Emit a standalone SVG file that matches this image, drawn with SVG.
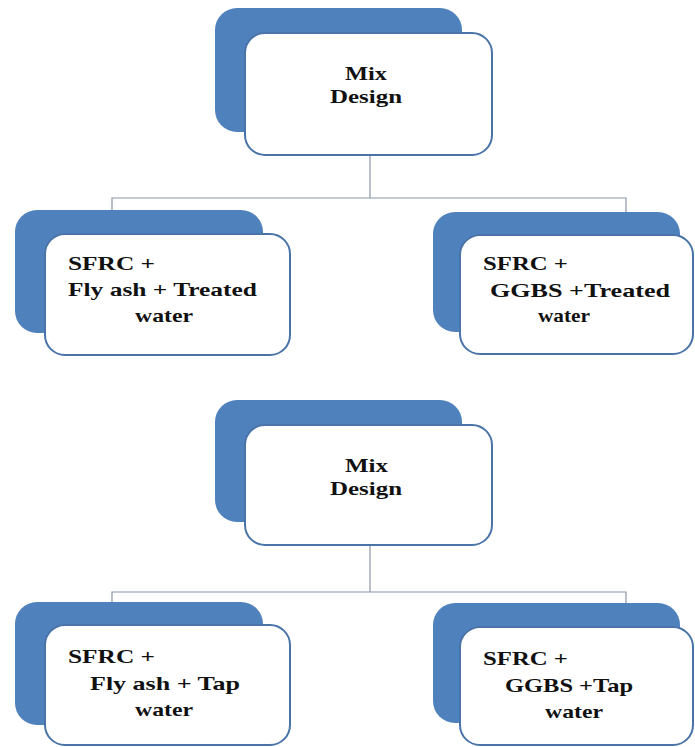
<svg xmlns="http://www.w3.org/2000/svg" width="695" height="747" viewBox="0 0 695 747">
  <style>
    .back { fill: #4f81bd; }
    .front { fill: #ffffff; stroke: #4a74a8; stroke-width: 2; }
    .link { fill: none; stroke: #8a96a8; stroke-width: 1.2; }
    .lbl { font-family: "Liberation Serif", "Times New Roman", serif; font-weight: bold; font-size: 19px; fill: #111111; }
  </style>
  <rect width="695" height="747" fill="#ffffff"/>

  <!-- connectors -->
  <g id="connectors">
    <polyline class="link" points="370,155 370,198"/>
    <polyline class="link" points="112,211 112,198 626,198 626,213"/>
    <polyline class="link" points="370,545 370,592"/>
    <polyline class="link" points="112,603 112,592 626,592 626,604"/>
  </g>

  <!-- upper tree: treated water -->
  <g id="mix-design-1">
    <rect class="back" x="215" y="8" width="247" height="124" rx="22"/>
    <rect class="front" x="245" y="33" width="247" height="122" rx="20"/>
    <text class="lbl" x="345" y="80" textLength="42" lengthAdjust="spacingAndGlyphs">Mix</text>
    <text class="lbl" x="330" y="103" textLength="72" lengthAdjust="spacingAndGlyphs">Design</text>
  </g>

  <g id="flyash-treated">
    <rect class="back" x="15" y="210" width="248" height="123" rx="22"/>
    <rect class="front" x="45" y="234" width="245" height="121" rx="20"/>
    <text class="lbl" x="68" y="270" textLength="87" lengthAdjust="spacingAndGlyphs">SFRC +</text>
    <text class="lbl" x="68" y="296" textLength="189" lengthAdjust="spacingAndGlyphs">Fly ash + Treated</text>
    <text class="lbl" x="135" y="322" textLength="58" lengthAdjust="spacingAndGlyphs">water</text>
  </g>

  <g id="ggbs-treated">
    <rect class="back" x="433" y="212" width="247" height="120" rx="22"/>
    <rect class="front" x="460" y="235" width="233" height="119" rx="20"/>
    <text class="lbl" x="483" y="270" textLength="85" lengthAdjust="spacingAndGlyphs">SFRC +</text>
    <text class="lbl" x="490" y="297" textLength="180" lengthAdjust="spacingAndGlyphs">GGBS +Treated</text>
    <text class="lbl" x="538" y="322" textLength="52" lengthAdjust="spacingAndGlyphs">water</text>
  </g>

  <!-- lower tree: tap water -->
  <g id="mix-design-2">
    <rect class="back" x="215" y="400" width="247" height="122" rx="22"/>
    <rect class="front" x="245" y="425" width="247" height="120" rx="20"/>
    <text class="lbl" x="345" y="472" textLength="43" lengthAdjust="spacingAndGlyphs">Mix</text>
    <text class="lbl" x="330" y="495" textLength="72" lengthAdjust="spacingAndGlyphs">Design</text>
  </g>

  <g id="flyash-tap">
    <rect class="back" x="15" y="602" width="248" height="123" rx="22"/>
    <rect class="front" x="45" y="625" width="245" height="120" rx="20"/>
    <text class="lbl" x="68" y="663" textLength="87" lengthAdjust="spacingAndGlyphs">SFRC +</text>
    <text class="lbl" x="90" y="690" textLength="150" lengthAdjust="spacingAndGlyphs">Fly ash + Tap</text>
    <text class="lbl" x="135" y="716" textLength="58" lengthAdjust="spacingAndGlyphs">water</text>
  </g>

  <g id="ggbs-tap">
    <rect class="back" x="433" y="603" width="247" height="120" rx="22"/>
    <rect class="front" x="460" y="627" width="233" height="118" rx="20"/>
    <text class="lbl" x="483" y="665" textLength="85" lengthAdjust="spacingAndGlyphs">SFRC +</text>
    <text class="lbl" x="505" y="692" textLength="128" lengthAdjust="spacingAndGlyphs">GGBS +Tap</text>
    <text class="lbl" x="545" y="718" textLength="58" lengthAdjust="spacingAndGlyphs">water</text>
  </g>
</svg>
